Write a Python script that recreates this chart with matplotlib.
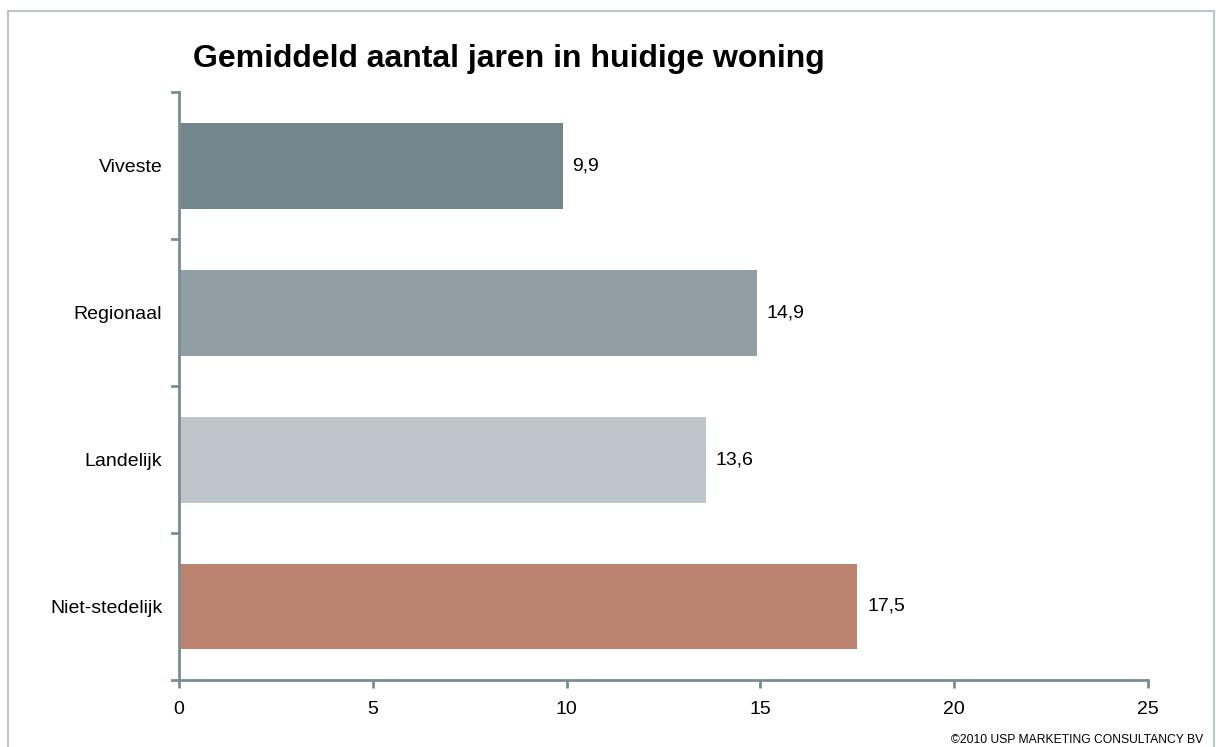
import matplotlib.pyplot as plt
from matplotlib.patches import Rectangle

plt.rcParams['font.family'] = ['Liberation Sans', 'DejaVu Sans']

# data
categories = ['Viveste', 'Regionaal', 'Landelijk', 'Niet-stedelijk']
years = [9.9, 14.9, 13.6, 17.5]
bar_colors = ['#72868c', '#919fa4', '#bec6cb', '#bb8370']
x_ticks = [0, 5, 10, 15, 20, 25]

axis_color = '#7a8d93'

fig = plt.figure(figsize=(12.16, 7.47), dpi=100)
ax = fig.add_axes([0.1472, 0.0897, 0.7969, 0.7871])

# outer frame around the whole chart
fig.patches.append(Rectangle((8 / 1216, -0.01), 1206 / 1216, 1 - 11 / 747 + 0.01,
                             transform=fig.transFigure, fill=False,
                             edgecolor='#bcc5ca', linewidth=1.5))

pos = list(range(len(categories)))[::-1]
ax.barh(pos, years, height=0.585, color=bar_colors)

for p, v in zip(pos, years):
    ax.text(v + 0.25, p, f'{v:.1f}'.replace('.', ','), va='center', ha='left',
            fontsize=14)

ax.set_xlim(0, 25)
ax.set_ylim(-0.5, len(categories) - 0.5)
ax.set_xticks(x_ticks)
ax.set_xticklabels([str(t) for t in x_ticks], fontsize=14)
ax.set_yticks(pos)
ax.set_yticklabels(categories, fontsize=14)
ax.tick_params(axis='y', length=0, pad=12)
ax.tick_params(axis='x', length=6, width=2, color=axis_color, pad=9)

# category boundary ticks on the y axis
for b in [i - 0.5 for i in range(len(categories) + 1)]:
    ax.plot([-0.18, 0], [b, b], color=axis_color, lw=2, clip_on=False)

for s in ['top', 'right']:
    ax.spines[s].set_visible(False)
for s in ['left', 'bottom']:
    ax.spines[s].set_color(axis_color)
    ax.spines[s].set_linewidth(2)

fig.text(193 / 1216, 1 - 59 / 747, 'Gemiddeld aantal jaren in huidige woning',
         fontsize=23, fontweight='bold', va='center', ha='left')
fig.text(1203 / 1216, 1 - 740 / 747, '\u00a92010 USP MARKETING CONSULTANCY BV',
         fontsize=8.7, va='center', ha='right')

fig.savefig('out.png', dpi=100)
